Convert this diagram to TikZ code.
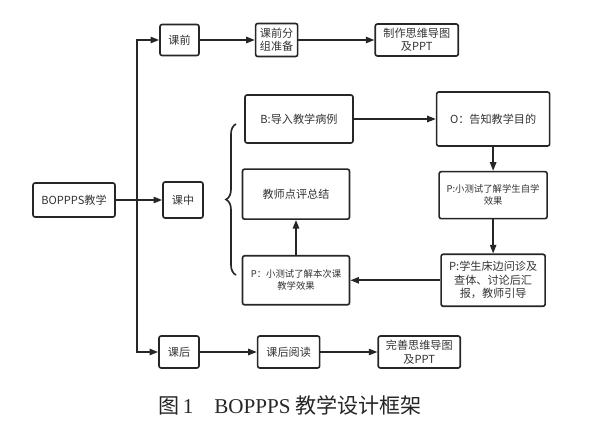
\documentclass[tikz,border=0pt]{standalone}
\usepackage{fontspec}
\newfontfamily\cjk{Noto Sans CJK SC}
\newfontfamily\capserif{Liberation Serif}
\usetikzlibrary{positioning,arrows.meta,decorations.pathreplacing}

\begin{document}
\begin{tikzpicture}[>={Triangle[length=2.6mm,width=1.9mm]},node distance=1.7cm,line width=1.4pt,
  box/.style={draw=black!85,rounded corners=1.8pt,align=center,inner sep=2pt,text=black!80,
    font=\cjk\fontsize{9.5}{11.5}\selectfont},
  smalltext/.style={font=\cjk\fontsize{8}{10}\selectfont}]
  \useasboundingbox (0,0) rectangle (18,-12.87);
  % root and the three stages
  \node[box,minimum width=2.46cm,minimum height=1.02cm] (bop) at (2.22,-6.0) {BOPPPS教学};
  \node[box,minimum width=1.2cm,minimum height=1.08cm] (kz) at (5.49,-6.0) {课中};
  \node[box,minimum width=1.17cm,minimum height=0.93cm] (kq) at (5.385,-1.2) {课前};
  \node[box,minimum width=1.2cm,minimum height=0.96cm] (kh) at (5.37,-10.56) {课后};
  \coordinate (tr) at (4.11,-6.0);
  % before class
  \node[box,minimum width=1.26cm,minimum height=0.99cm,right=1.65cm of kq] (kqfz) {课前分\\组准备};
  \node[box,minimum width=2.49cm,minimum height=0.96cm,right=2.28cm of kqfz] (zz) {制作思维导图\\及PPT};
  % after class
  \node[box,minimum width=1.86cm,minimum height=0.96cm,right=1.71cm of kh] (khyd) {课后阅读};
  \node[box,minimum width=2.46cm,minimum height=0.96cm,right=1.71cm of khyd] (ws) {完善思维导图\\及PPT};
  % in class
  \node[box,minimum width=3.24cm,minimum height=1.44cm] (b) at (8.97,-3.57) {B:导入教学病例};
  \node[box,minimum width=3.39cm,minimum height=1.62cm,right=2.46cm of b] (o) {O：告知教学目的};
  \node[box,smalltext,minimum width=3.24cm,minimum height=1.41cm,below=0.72cm of o] (p1) {P:小测试了解学生自学\\效果};
  \node[box,minimum width=3.12cm,minimum height=1.56cm,below=1.02cm of p1] (p2) {P:学生床边问诊及\\查体、讨论后汇\\报，教师引导};
  \node[box,smalltext,minimum width=3.21cm,minimum height=1.47cm,left=2.7cm of p2] (p3) {P：小测试了解本次课\\教学效果};
  \node[box,minimum width=3.21cm,minimum height=1.5cm,above=1.05cm of p3] (js) {教师点评总结};
  \coordinate (brtop) at (7.08,-3.72);
  \coordinate (brbot) at (7.08,-8.25);

  \draw[->,black!85] (bop) -- (kz);
  \draw[->,black!85] (tr) |- (kq);
  \draw[->,black!85] (tr) |- (kh);
  \draw[->,black!85] (kq) -- (kqfz);
  \draw[->,black!85] (kqfz) -- (zz);
  \draw[->,black!85] (kh) -- (khyd);
  \draw[->,black!85] (khyd) -- (ws);
  \draw[->,black!85] (b) -- (o);
  \draw[->,black!85] (o) -- (p1);
  \draw[->,black!85] (p1) -- (p1 |- p2.north);
  \draw[->,black!85] (p2) -- (p3);
  \draw[->,black!85] (p3) -- (js);
  \draw[black!85,decorate,decoration={brace,amplitude=0.3cm}] (brbot) -- (brtop);

  \node[text=black!85,font=\cjk\fontsize{18}{21}\selectfont] (cap) at (8.7,-12.15)
    {图\,{\capserif 1}\quad{\capserif BOPPPS} 教学设计框架};
\end{tikzpicture}
\end{document}
